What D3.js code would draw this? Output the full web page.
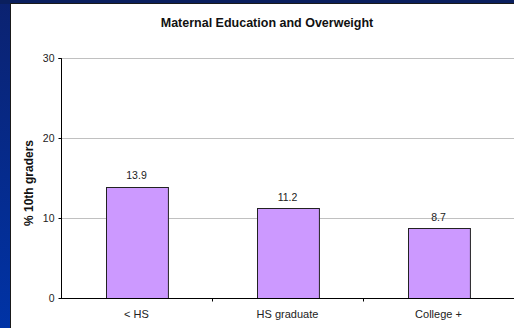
<!DOCTYPE html>
<html>
<head>
<meta charset="utf-8">
<script src="https://cdn.jsdelivr.net/npm/d3@7"></script>
<style>
  html, body { margin: 0; padding: 0; background: #0a2a86; }
  svg { display: block; }
  text { font-family: "Liberation Sans", Arial, sans-serif; }
</style>
</head>
<body>
<svg id="chart" width="514" height="328"></svg>
<script>
// Percent of 10th graders overweight, by mother's education
const categories = ["< HS", "HS graduate", "College +"];
const values = [13.9, 11.2, 8.7];
const yTicks = [0, 10, 20, 30];
const chartTitle = "Maternal Education and Overweight";
const yTitle = "% 10th graders";

const W = 514, H = 328;
const svg = d3.select("#chart");

// Slide backdrop: blue gradient with a navy band across the top
const defs = svg.append("defs");
const grad = defs.append("linearGradient").attr("id", "bg")
  .attr("x1", 0).attr("y1", 0).attr("x2", 0).attr("y2", 1);
grad.append("stop").attr("offset", 0).attr("stop-color", "#0b2270");
grad.append("stop").attr("offset", 1).attr("stop-color", "#0033a6");
svg.append("rect").attr("width", W).attr("height", H).attr("fill", "url(#bg)");
svg.append("rect").attr("width", W).attr("height", 4).attr("fill", "#0a1f5e");

// White chart panel
svg.append("rect").attr("x", 10).attr("y", 3).attr("width", W - 10).attr("height", H - 3)
  .attr("fill", "#1a1a1a");
svg.append("rect").attr("x", 11).attr("y", 4).attr("width", W - 11).attr("height", H - 4)
  .attr("fill", "#ffffff");

const plot = { left: 61, right: 514, top: 58, bottom: 298 };

const x = d3.scaleBand().domain(categories)
  .range([plot.left, plot.right]).paddingInner(0.59).paddingOuter(0.295);
const y = d3.scaleLinear().domain([0, 30]).range([plot.bottom, plot.top]);

// Horizontal gridlines
svg.append("g").selectAll("line").data(yTicks.filter(d => d > 0)).join("line")
  .attr("x1", plot.left).attr("x2", plot.right)
  .attr("y1", d => y(d) + 0.5).attr("y2", d => y(d) + 0.5)
  .attr("stroke", "#c0c0c0").attr("stroke-width", 1);

// Bars
svg.append("g").selectAll("rect").data(values).join("rect")
  .attr("x", (d, i) => Math.round(x(categories[i])) + 0.5)
  .attr("y", d => Math.round(y(d)) + 0.5)
  .attr("width", x.bandwidth())
  .attr("height", d => Math.round(y(0)) - Math.round(y(d)))
  .attr("fill", "#cc99ff")
  .attr("stroke", "#222").attr("stroke-width", 1);

// Value labels
svg.append("g").selectAll("text").data(values).join("text")
  .attr("x", (d, i) => x(categories[i]) + x.bandwidth() / 2)
  .attr("y", d => y(d) - 7.5)
  .attr("text-anchor", "middle")
  .attr("font-size", 10.5).attr("fill", "#222")
  .text(d => d.toFixed(1));

// Y axis
const yAxis = svg.append("g").attr("transform", `translate(${plot.left + 0.5},0)`)
  .call(d3.axisLeft(y).tickValues(yTicks).tickSize(3).tickPadding(4).tickFormat(d3.format("d")));
yAxis.select(".domain").attr("stroke", "#000").attr("d", `M-3,${plot.top + 0.5}H0V${plot.bottom + 0.5}`);
yAxis.selectAll(".tick line").attr("stroke", "#000");
yAxis.selectAll(".tick text").attr("font-size", 10.5).attr("fill", "#222")
  .attr("font-family", "Liberation Sans, Arial, sans-serif");

// X axis with ticks between categories
const xAxis = svg.append("g").attr("transform", `translate(0,${plot.bottom + 0.5})`);
xAxis.append("line").attr("x1", plot.left).attr("x2", plot.right).attr("stroke", "#000");
const step = x.step();
const dividers = categories.slice(1).map((c, i) => plot.left + step * (i + 1));
xAxis.selectAll("line.div").data(dividers).join("line").attr("class", "div")
  .attr("x1", d => Math.round(d) + 0.5).attr("x2", d => Math.round(d) + 0.5)
  .attr("y1", 0).attr("y2", 3).attr("stroke", "#000");
xAxis.selectAll("text").data(categories).join("text")
  .attr("x", d => x(d) + x.bandwidth() / 2)
  .attr("y", 19.5)
  .attr("text-anchor", "middle")
  .attr("font-size", 11).attr("fill", "#222")
  .text(d => d);

// Titles
svg.append("text").attr("x", 267).attr("y", 27)
  .attr("text-anchor", "middle").attr("font-weight", "bold").attr("font-size", 12.5)
  .attr("fill", "#111").text(chartTitle);
svg.append("text")
  .attr("transform", `translate(33,183) rotate(-90)`)
  .attr("text-anchor", "middle").attr("font-weight", "bold").attr("font-size", 12)
  .attr("fill", "#111").text(yTitle);
</script>
</body>
</html>
